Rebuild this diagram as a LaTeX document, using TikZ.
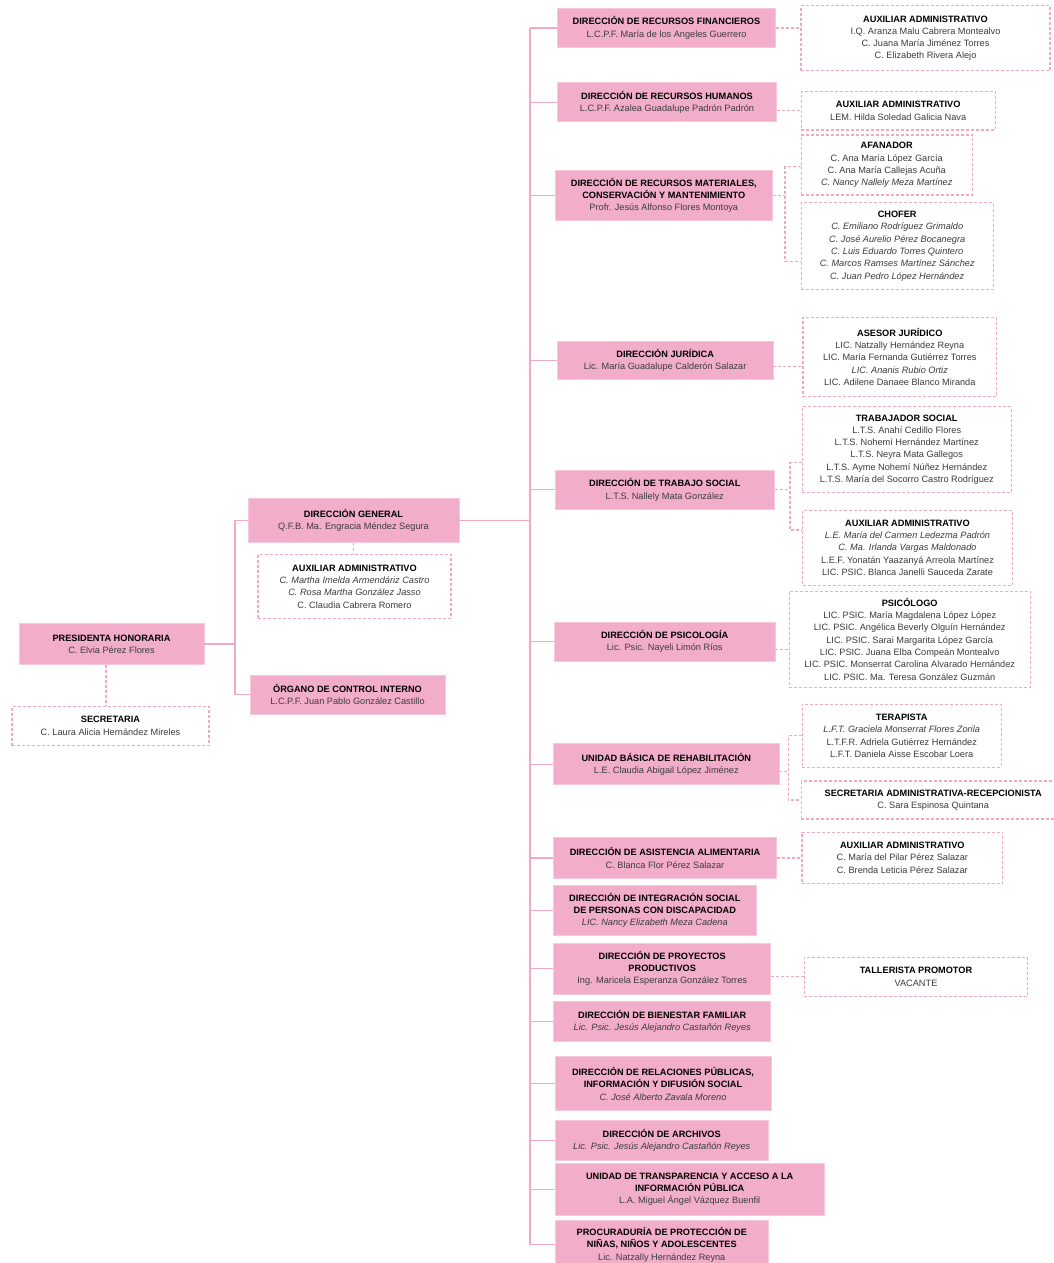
\documentclass[tikz,border=0pt]{standalone}
\usepackage{fontspec}
\setmainfont{Liberation Sans}
\definecolor{rosa}{HTML}{F2ADCA}
\definecolor{rosaborde}{HTML}{F7C8DB}
\definecolor{rosalinea}{HTML}{F1A9C6}
\definecolor{texto}{HTML}{3C3C3C}
\newcommand{\cargo}[1]{\textcolor{black}{\bfseries #1}}

\begin{document}
\begin{tikzpicture}[x=1pt,y=-1pt,
  dir/.style={fill=rosa,draw=rosaborde,line width=0.8pt,align=center,inner sep=0pt,text=texto,font=\fontsize{9.2}{12.3}\selectfont},
  aux/.style={draw=rosalinea,dash pattern=on 3pt off 2pt,line width=1.1pt,fill=white,align=center,inner sep=0pt,text=texto,font=\fontsize{9.2}{12.3}\selectfont},
  caja/.style 2 args={minimum width=#1,minimum height=#2},
  conn/.style={draw=rosalinea,line width=1.2pt},
  dconn/.style={draw=rosalinea,line width=1.1pt,dash pattern=on 3pt off 2pt}]
\useasboundingbox (0,0) rectangle (1054,1263);

% izquierda
\node[dir,caja={185}{40.6}] (ph) at (111.5,644) {\cargo{PRESIDENTA HONORARIA}\\C. Elvia Pérez Flores};
\node[aux,caja={197}{39.5}] (sec) at (110.5,725.8) {\cargo{SECRETARIA}\\C. Laura Alicia Hernández Mireles};
\node[dir,caja={211}{43.7}] (dg) at (353.5,520.5) {\cargo{DIRECCIÓN GENERAL}\\Q.F.B. Ma. Engracia Méndez Segura};
\node[aux,caja={193}{63.7}] (dgax) at (354.5,586.5) {\cargo{AUXILIAR ADMINISTRATIVO}\\\textit{C. Martha Imelda Armendáriz Castro}\\\textit{C. Rosa Martha González Jasso}\\C. Claudia Cabrera Romero};
\node[dir,caja={195}{39.5}] (oci) at (347.5,694.7) {\cargo{ÓRGANO DE CONTROL INTERNO}\\L.C.P.F. Juan Pablo González Castillo};

% direcciones
\node[dir,caja={218.4}{39.4}] (rf) at (666.5,28) {\cargo{DIRECCIÓN DE RECURSOS FINANCIEROS}\\L.C.P.F. María de los Angeles Guerrero};
\node[dir,caja={219.4}{39}] (rh) at (667,102.2) {\cargo{DIRECCIÓN DE RECURSOS HUMANOS}\\L.C.P.F. Azalea Guadalupe Padrón Padrón};
\node[dir,caja={217}{50.7}] (rm) at (663.8,195.3) {\cargo{DIRECCIÓN DE RECURSOS MATERIALES,}\\\cargo{CONSERVACIÓN Y MANTENIMIENTO}\\Profr. Jesús Alfonso Flores Montoya};
\node[dir,caja={215.7}{38.3}] (dj) at (665.2,360.2) {\cargo{DIRECCIÓN JURÍDICA}\\Lic. María Guadalupe Calderón Salazar};
\node[dir,caja={219.7}{39}] (ts) at (664.8,489.8) {\cargo{DIRECCIÓN DE TRABAJO SOCIAL}\\L.T.S. Nallely Mata González};
\node[dir,caja={220.7}{38.7}] (ps) at (664.7,641.7) {\cargo{DIRECCIÓN DE PSICOLOGÍA}\\Lic. Psic. Nayeli Limón Ríos};
\node[dir,caja={225.3}{41}] (ub) at (666.3,764.2) {\cargo{UNIDAD BÁSICA DE REHABILITACIÓN}\\L.E. Claudia Abigail López Jiménez};
\node[dir,caja={222.6}{41.4}] (aa) at (665,858) {\cargo{DIRECCIÓN DE ASISTENCIA ALIMENTARIA}\\C. Blanca Flor Pérez Salazar};
\node[dir,caja={202.3}{50.3}] (di) at (654.8,910.2) {\cargo{DIRECCIÓN DE INTEGRACIÓN SOCIAL}\\\cargo{DE PERSONAS CON DISCAPACIDAD}\\\textit{LIC. Nancy Elizabeth Meza Cadena}};
\node[dir,caja={217}{51}] (pp) at (662.2,968.5) {\cargo{DIRECCIÓN DE PROYECTOS}\\\cargo{PRODUCTIVOS}\\Ing. Maricela Esperanza González Torres};
\node[dir,caja={217}{40.7}] (bf) at (662.2,1021.3) {\cargo{DIRECCIÓN DE BIENESTAR FAMILIAR}\\\textit{Lic. Psic. Jesús Alejandro Castañón Reyes}};
\node[dir,caja={216}{54}] (rp) at (663,1083.7) {\cargo{DIRECCIÓN DE RELACIONES PÚBLICAS,}\\\cargo{INFORMACIÓN Y DIFUSIÓN SOCIAL}\\\textit{C. José Alberto Zavala Moreno}};
\node[dir,caja={212.7}{39.7}] (ar) at (661.7,1140.2) {\cargo{DIRECCIÓN DE ARCHIVOS}\\\textit{Lic. Psic. Jesús Alejandro Castañón Reyes}};
\node[dir,caja={269.3}{52}] (ut) at (689.7,1189.3) {\cargo{UNIDAD DE TRANSPARENCIA Y ACCESO A LA}\\\cargo{INFORMACIÓN PÚBLICA}\\L.A. Miguel Ángel Vázquez Buenfil};
\node[dir,caja={213.7}{48.7}] (pr) at (661.8,1244.7) {\cargo{PROCURADURÍA DE PROTECCIÓN DE}\\\cargo{NIÑAS, NIÑOS Y ADOLESCENTES}\\Lic. Natzally Hernández Reyna};

% personal
\node[aux,caja={249}{65}] (rfa) at (925.5,38.2) {\cargo{AUXILIAR ADMINISTRATIVO}\\I.Q. Aranza Malu Cabrera Montealvo\\C. Juana María Jiménez Torres\\C. Elizabeth Rivera Alejo};
\node[aux,caja={194.3}{38.3}] (rha) at (898.2,110.8) {\cargo{AUXILIAR ADMINISTRATIVO}\\LEM. Hilda Soledad Galicia Nava};
\node[aux,caja={171.3}{60}] (afa) at (886.7,165) {\cargo{AFANADOR}\\C. Ana María López García\\C. Ana María Callejas Acuña\\\textit{C. Nancy Nallely Meza Martínez}};
\node[aux,caja={192.3}{86.6}] (cho) at (897.2,246) {\cargo{CHOFER}\\\textit{C. Emiliano Rodríguez Grimaldo}\\\textit{C. José Aurelio Pérez Bocanegra}\\\textit{C. Luis Eduardo Torres Quintero}\\\textit{C. Marcos Ramses Martínez Sánchez}\\\textit{C. Juan Pedro López Hernández}};
\node[aux,caja={193.7}{79}] (ase) at (899.8,356.8) {\cargo{ASESOR JURÍDICO}\\LIC. Natzally Hernández Reyna\\LIC. María Fernanda Gutiérrez Torres\\\textit{LIC. Ananis Rubio Ortiz}\\LIC. Adilene Danaee Blanco Miranda};
\node[aux,caja={209.3}{85.6}] (tra) at (906.7,449.5) {\cargo{TRABAJADOR SOCIAL}\\L.T.S. Anahí Cedillo Flores\\L.T.S. Nohemí Hernández Martínez\\L.T.S. Neyra Mata Gallegos\\L.T.S. Ayme Nohemí Núñez Hernández\\L.T.S. María del Socorro Castro Rodríguez};
\node[aux,caja={209.6}{75}] (tsa) at (907.5,547.8) {\cargo{AUXILIAR ADMINISTRATIVO}\\\textit{L.E. María del Carmen Ledezma Padrón}\\\textit{C. Ma. Irlanda Vargas Maldonado}\\L.E.F. Yonatán Yaazanyá Arreola Martínez\\LIC. PSIC. Blanca Janelli Sauceda Zarate};
\node[aux,caja={241.3}{96.3}] (psi) at (909.7,639.2) {\cargo{PSICÓLOGO}\\LIC. PSIC. María Magdalena López López\\LIC. PSIC. Angélica Beverly Olguín Hernández\\LIC. PSIC. Sarai Margarita López García\\LIC. PSIC. Juana Elba Compeán Montealvo\\LIC. PSIC. Monserrat Carolina Alvarado Hernández\\LIC. PSIC. Ma. Teresa González Guzmán};
\node[aux,caja={199.3}{62.7}] (ter) at (901.7,735.7) {\cargo{TERAPISTA}\\\textit{L.F.T. Graciela Monserrat Flores Zorila}\\L.T.F.R. Adriela Gutiérrez Hernández\\L.F.T. Daniela Aisse Escobar Loera};
\node[aux,caja={263.7}{38}] (sar) at (933.2,800) {\cargo{SECRETARIA ADMINISTRATIVA-RECEPCIONISTA}\\C. Sara Espinosa Quintana};
\node[aux,caja={200.7}{51.3}] (aaa) at (902.3,857.7) {\cargo{AUXILIAR ADMINISTRATIVO}\\C. María del Pilar Pérez Salazar\\C. Brenda Leticia Pérez Salazar};
\node[aux,caja={223.4}{39.3}] (tal) at (916,976.7) {\cargo{TALLERISTA PROMOTOR}\\VACANTE};

% lineas
\coordinate (lk) at (235,0);
\coordinate (rk) at (530,0);
\draw[conn] (ph.east) -- (ph.east -| lk);
\draw[conn] (dg.west) -| (oci.west -| lk) -- (oci.west);
\draw[conn] (dg.east) -- (dg.east -| rk);
\draw[conn] (rf.west -| rk) -- (pr.west -| rk);
\foreach \n in {rf,rh,rm,dj,ts,ps,ub,aa,di,pp,bf,rp,ar,ut,pr}
  \draw[conn] (\n.west) -- (\n.west -| rk);

\draw[dconn] ([xshift=-5.5pt]ph.south) -- ([xshift=-5.5pt]ph.south |- sec.north);
\draw[dconn] (dg.south) -- (dgax.north -| dg.south);
\draw[dconn] (rf.east) -- (rf.east -| rfa.west);
\draw[dconn] (rh.east |- rha.west) -- (rha.west);
\draw[dconn] (rm.east) -- (785,195.3);
\draw[dconn] (afa.west |- 0,166.7) -- (785,166.7) -- (785,261.7) -- (cho.west |- 0,261.7);
\draw[dconn] (dj.east |- 0,366.7) -- (ase.west |- 0,366.7);
\draw[dconn] (ts.east) -- (790,489.8);
\draw[dconn] (tra.west |- 0,462.7) -- (790,462.7) -- (790,530) -- (tsa.west |- 0,530);
\draw[dconn] (ps.east |- 0,649.3) -- (psi.west |- 0,649.3);
\draw[dconn] (ub.east |- 0,771.7) -- (788.3,771.7);
\draw[dconn] (ter.west) -- (ter.west -| 788.3,0) -- (sar.west -| 788.3,0) -- (sar.west);
\draw[dconn] (aa.east) -- (aa.east -| aaa.west);
\draw[dconn] (pp.east |- tal.west) -- (tal.west);

\end{tikzpicture}
\end{document}
